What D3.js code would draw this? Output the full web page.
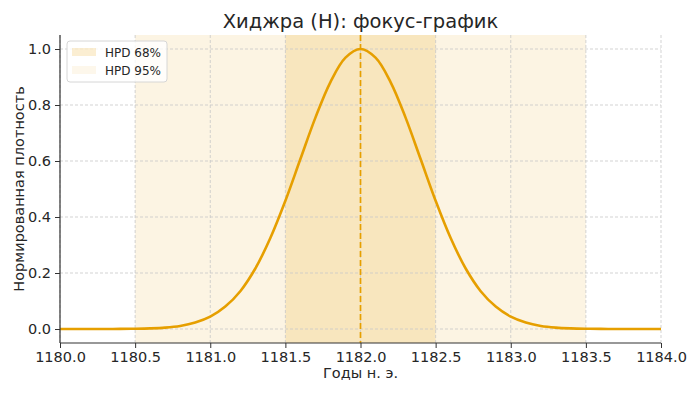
<!DOCTYPE html>
<html>
<head>
<meta charset="utf-8">
<script src="https://cdn.jsdelivr.net/npm/d3@7"></script>
<style>
  body { margin: 0; background: #fff; }
  svg text { font-family: "DejaVu Sans", sans-serif; fill: #262626; }
</style>
</head>
<body>
<div id="chart"></div>
<script>
// curve, 0.1 year steps
var years = [1180.0,1180.1,1180.2,1180.3,1180.4,1180.5,1180.6,1180.7,1180.8,1180.9,
             1181.0,1181.1,1181.2,1181.3,1181.4,1181.5,1181.6,1181.7,1181.8,1181.9,
             1182.0,1182.1,1182.2,1182.3,1182.4,1182.5,1182.6,1182.7,1182.8,1182.9,
             1183.0,1183.1,1183.2,1183.3,1183.4,1183.5,1183.6,1183.7,1183.8,1183.9,1184.0];
var density = [0,0,0,0.0001,0.0003,0.0009,0.0022,0.005,0.011,0.023,
               0.044,0.08,0.135,0.216,0.325,0.458,0.607,0.755,0.882,0.969,
               1.0,0.969,0.882,0.755,0.607,0.458,0.325,0.216,0.135,0.08,
               0.044,0.023,0.011,0.005,0.0022,0.0009,0.0003,0.0001,0,0,0];
var hpd95 = [1180.5, 1183.5];
var hpd68 = [1181.5, 1182.5];
var mode = 1182.0;
var xTicks = [1180.0,1180.5,1181.0,1181.5,1182.0,1182.5,1183.0,1183.5,1184.0];
var yTicks = [0.0,0.2,0.4,0.6,0.8,1.0];
var legendLabels = ["HPD 68%", "HPD 95%"];

var W = 700, H = 394;
var m = {top: 35, right: 39, bottom: 51, left: 60};
var orange = "#E69F00";

var svg = d3.select("#chart").append("svg").attr("width", W).attr("height", H);
var g = svg.append("g").attr("transform", "translate(" + m.left + "," + m.top + ")");
var w = W - m.left - m.right, h = H - m.top - m.bottom;

var x = d3.scaleLinear().domain([1180, 1184]).range([0, w]);
var y = d3.scaleLinear().domain([-0.05, 1.05]).range([h, 0]);

// bands
g.append("rect").attr("x", x(hpd95[0])).attr("y", 0)
  .attr("width", x(hpd95[1]) - x(hpd95[0])).attr("height", h)
  .attr("fill", orange).attr("fill-opacity", 0.11);
g.append("rect").attr("x", x(hpd68[0])).attr("y", 0)
  .attr("width", x(hpd68[1]) - x(hpd68[0])).attr("height", h)
  .attr("fill", orange).attr("fill-opacity", 0.16);

// grid
g.append("g").selectAll("line").data(xTicks).join("line")
  .attr("x1", d => x(d)).attr("x2", d => x(d)).attr("y1", 0).attr("y2", h)
  .attr("stroke", "#c8c8c8").attr("stroke-width", 0.8).attr("stroke-dasharray", "3,2");
g.append("g").selectAll("line").data(yTicks).join("line")
  .attr("y1", d => y(d)).attr("y2", d => y(d)).attr("x1", 0).attr("x2", w)
  .attr("stroke", "#c8c8c8").attr("stroke-width", 0.8).attr("stroke-dasharray", "3,2");

// curve
var line = d3.line().x((d, i) => x(years[i])).y(d => y(d)).curve(d3.curveCatmullRom);
g.append("path").datum(density).attr("d", line)
  .attr("fill", "none").attr("stroke", orange).attr("stroke-width", 2.6);

// mode line
g.append("line").attr("x1", x(mode)).attr("x2", x(mode)).attr("y1", 0).attr("y2", h)
  .attr("stroke", orange).attr("stroke-width", 1.7).attr("stroke-dasharray", "6,3");

// axes
var xAxis = g.append("g").attr("transform", "translate(0," + h + ")")
  .call(d3.axisBottom(x).tickValues(xTicks).tickFormat(d3.format(".1f")).tickSize(5).tickPadding(4));
var yAxis = g.append("g")
  .call(d3.axisLeft(y).tickValues(yTicks).tickFormat(d3.format(".1f")).tickSize(5).tickPadding(4));
[xAxis, yAxis].forEach(a => {
  a.select(".domain").attr("stroke", "#333").attr("stroke-width", 1.2);
  a.selectAll(".tick line").attr("stroke", "#333");
  a.selectAll("text").style("font-size", "14.5px").attr("fill", "#262626");
});
// only left and bottom spines
xAxis.select(".domain").attr("d", "M0,0H" + w);
yAxis.select(".domain").attr("d", "M0,0V" + h);

// labels
svg.append("text").attr("x", m.left + w / 2).attr("y", 28).attr("text-anchor", "middle")
  .style("font-size", "19.5px").text("Хиджра (H): фокус-график");
svg.append("text").attr("x", m.left + w / 2).attr("y", 378).attr("text-anchor", "middle")
  .style("font-size", "14.5px").text("Годы н. э.");
svg.append("text").attr("transform", "translate(24," + (m.top + h / 2) + ") rotate(-90)")
  .attr("text-anchor", "middle").style("font-size", "14.5px").text("Нормированная плотность");

// legend
var lg = g.append("g").attr("transform", "translate(7,6)");
lg.append("rect").attr("width", 100).attr("height", 41).attr("rx", 3)
  .attr("fill", "#fff").attr("fill-opacity", 0.8).attr("stroke", "#d6d6d6");
var opac = [0.25, 0.11];
legendLabels.forEach((t, i) => {
  lg.append("rect").attr("x", 5).attr("y", 7 + i * 18).attr("width", 24).attr("height", 8)
    .attr("fill", orange).attr("fill-opacity", opac[i] * 0.7);
  lg.append("text").attr("x", 38).attr("y", 15.5 + i * 18).style("font-size", "12px").text(t);
});
</script>
</body>
</html>
